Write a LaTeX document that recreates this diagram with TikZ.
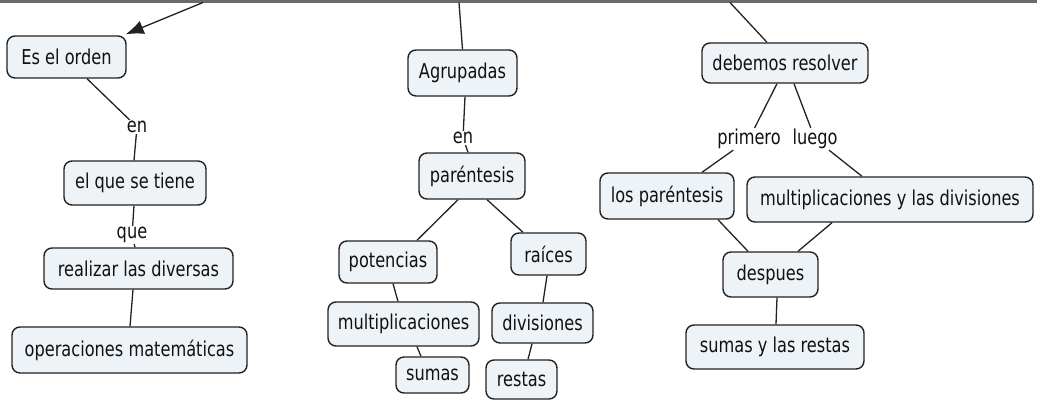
\documentclass[tikz,border=0pt]{standalone}
\usepackage{fontspec}
\setmainfont[FakeStretch=0.79]{DejaVu Sans}
\usetikzlibrary{arrows.meta}
\definecolor{boxfill}{HTML}{EEF3F7}
\definecolor{boxline}{HTML}{222222}
\definecolor{txt}{HTML}{111111}
\definecolor{topline}{HTML}{6A6A6A}
\begin{document}
\begin{tikzpicture}[x=1pt,y=-1pt,
  concept/.style={draw=boxline, fill=boxfill, line width=1.4pt, rounded corners=8pt,
    inner sep=0pt, text=txt, font=\fontsize{20.5}{24}\selectfont},
  lbl/.style={inner sep=1pt, text=txt, font=\fontsize{20.5}{24}\selectfont},
  link/.style={draw=boxline, line width=1.3pt}]
\useasboundingbox (0,0) rectangle (1037,405);
\fill[topline] (0,0) rectangle (1037,2.5);

% left column
\node[concept, minimum width=119pt, minimum height=42pt] (e1) at (66.5,57) {Es el orden};
\node[lbl] (en1) at (137,127) {en};
\node[concept, minimum width=142pt, minimum height=44pt] (e2) at (135,183) {el que se tiene};
\node[lbl] (que) at (132,235) {que};
\node[concept, minimum width=189pt, minimum height=41pt] (e3) at (138.5,268.5) {realizar las diversas};
\node[concept, minimum width=235pt, minimum height=46pt] (e4) at (129.5,350) {operaciones matemáticas};

% middle column
\node[concept, minimum width=109pt, minimum height=46pt] (agr) at (462.5,73) {Agrupadas};
\node[lbl] (en2) at (463,138) {en};
\node[concept, minimum width=106pt, minimum height=46pt] (par) at (472,176) {paréntesis};
\node[concept, minimum width=98pt, minimum height=42pt] (pot) at (388,262) {potencias};
\node[concept, minimum width=75pt, minimum height=42pt] (rai) at (548.5,254) {raíces};
\node[concept, minimum width=151pt, minimum height=44pt] (mul) at (403.5,324) {multiplicaciones};
\node[concept, minimum width=101pt, minimum height=40pt] (div) at (542.5,323) {divisiones};
\node[concept, minimum width=73pt, minimum height=36pt] (sum) at (432.5,375) {sumas};
\node[concept, minimum width=71pt, minimum height=39pt] (res) at (521.5,379.5) {restas};

% right column
\node[concept, minimum width=166pt, minimum height=40pt] (deb) at (785,63) {debemos resolver};
\node[lbl] (pri) at (749,139) {primero};
\node[lbl] (lue) at (815,139) {luego};
\node[concept, minimum width=134pt, minimum height=46pt] (lpar) at (667,196) {los paréntesis};
\node[concept, minimum width=286pt, minimum height=45pt] (mdiv) at (890,199.5) {multiplicaciones y las divisiones};
\node[concept, minimum width=95pt, minimum height=45pt] (desp) at (770.5,274.5) {despues};
\node[concept, minimum width=178pt, minimum height=44pt] (syr) at (775,347) {sumas y las restas};

% free ends at the top edge
\coordinate (t1) at (203,2.5);
\coordinate (t2) at (459,2.5);
\coordinate (t3) at (730,2.5);

% connectors
\draw[link, -{Latex[length=18pt,width=14pt]}] (t1) -- ([xshift=-1pt,yshift=1pt]e1.north east);
\draw[link] ([xshift=20.5pt]e1.south) -- (en1);
\draw[link] (en1) -- ([xshift=-1pt]e2.north);
\draw[link] ([xshift=-1pt]e2.south) -- (que);
\draw[link] (que) -- ([xshift=-3.5pt]e3.north);
\draw[link] ([xshift=-5.5pt]e3.south) -- ([xshift=0.5pt]e4.north);

\draw[link] (t2) -- (agr.north);
\draw[link] ([xshift=2.5pt]agr.south) -- (en2);
\draw[link] (en2) -- ([xshift=-4pt]par.north);
\draw[link] ([xshift=-14pt]par.south) -- ([xshift=29pt]pot.north);
\draw[link] ([xshift=15pt]par.south) -- ([xshift=-25.5pt]rai.north);
\draw[link] ([xshift=5pt]pot.south) -- ([xshift=-5.5pt]mul.north);
\draw[link] ([xshift=-1.5pt]rai.south) -- ([xshift=0.5pt]div.north);
\draw[link] ([xshift=13.5pt]mul.south) -- ([xshift=-11.5pt]sum.north);
\draw[link] ([xshift=-10.5pt]div.south) -- ([xshift=6.5pt]res.north);

\draw[link] (t3) -- ([xshift=-18pt]deb.north);
\draw[link] ([xshift=-8pt]deb.south) -- (pri);
\draw[link] (pri) -- ([xshift=35pt]lpar.north);
\draw[link] ([xshift=9pt]deb.south) -- (lue);
\draw[link] (lue) -- ([xshift=-28pt]mdiv.north);
\draw[link] ([xshift=51pt]lpar.south) -- ([xshift=-22.5pt]desp.north);
\draw[link] ([xshift=-58pt]mdiv.south) -- ([xshift=27.5pt]desp.north);
\draw[link] ([xshift=6.5pt]desp.south) -- ([xshift=1pt]syr.north);
\end{tikzpicture}
\end{document}
